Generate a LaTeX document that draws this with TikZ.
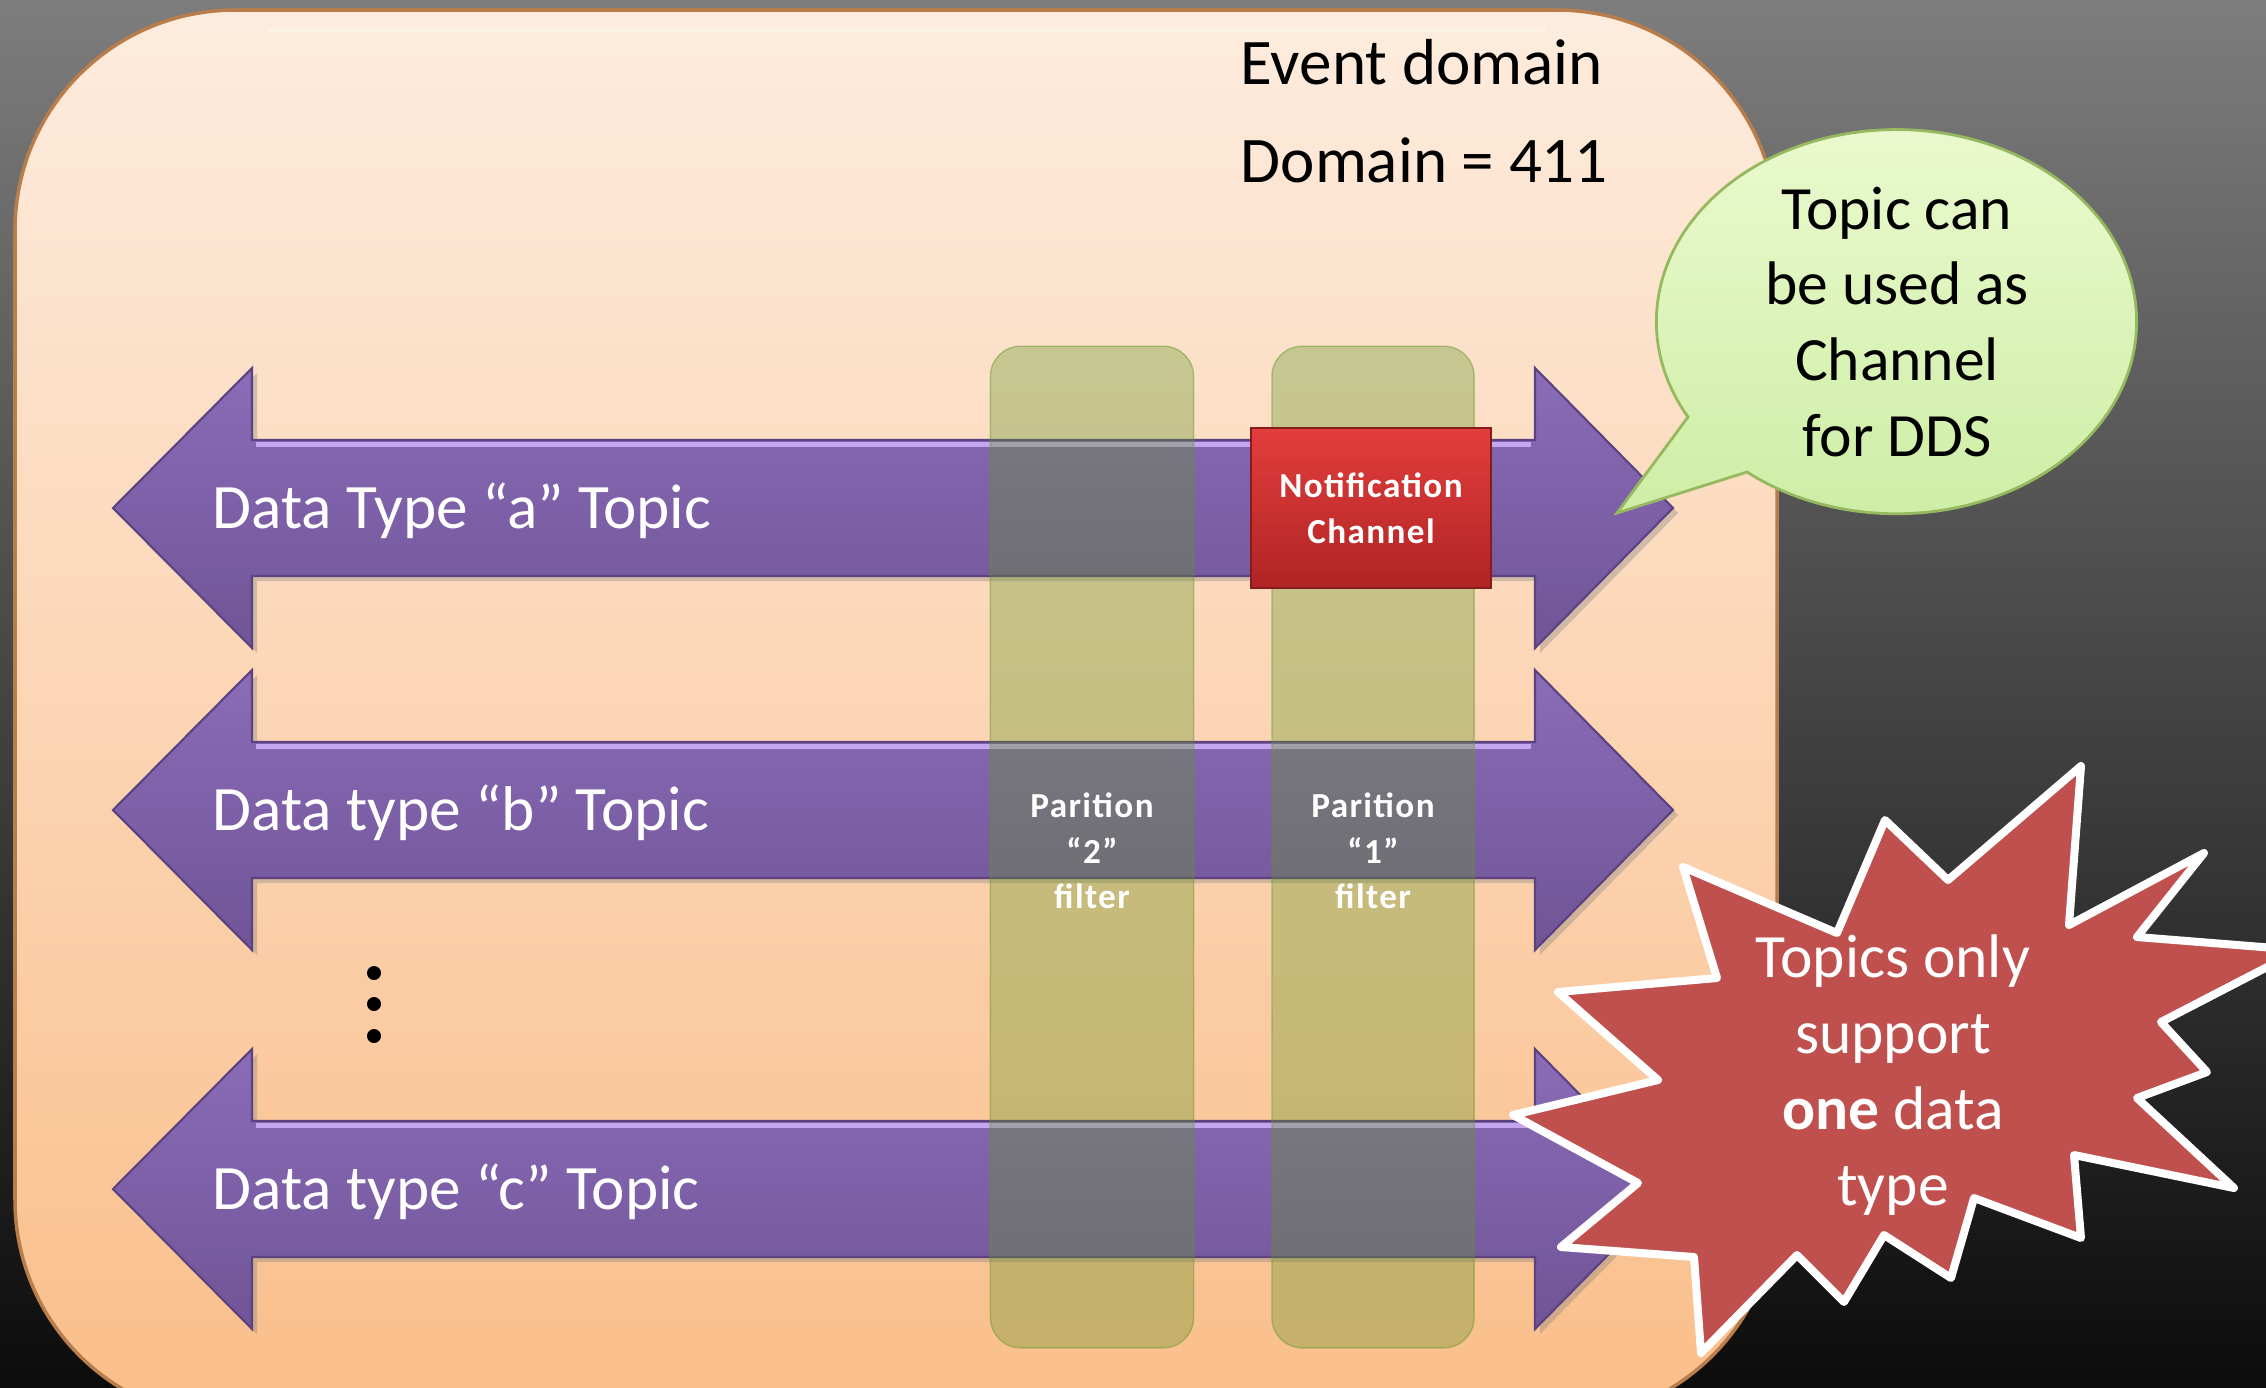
\documentclass[tikz,border=0pt]{standalone}
\usepackage{fontspec}
\setmainfont{Carlito}
\usetikzlibrary{shadows}

\definecolor{bgtop}{RGB}{125,125,125}
\definecolor{bgmid}{RGB}{68,68,68}
\definecolor{bgbot}{RGB}{12,12,12}
\definecolor{peachtop}{RGB}{253,236,222}
\definecolor{peachbot}{RGB}{250,190,138}
\definecolor{peachline}{RGB}{185,125,75}
\definecolor{topictop}{RGB}{138,108,184}
\definecolor{topicbot}{RGB}{112,84,150}
\definecolor{topicedge}{RGB}{92,66,128}
\definecolor{topiclight}{RGB}{196,166,240}
\definecolor{pillarolive}{RGB}{100,150,40}
\definecolor{notiftop}{RGB}{226,62,60}
\definecolor{notifbot}{RGB}{176,36,36}
\definecolor{notifedge}{RGB}{135,28,28}
\definecolor{bubbletop}{RGB}{236,250,208}
\definecolor{bubblebot}{RGB}{204,237,164}
\definecolor{bubbleedge}{RGB}{150,185,95}
\definecolor{starred}{RGB}{192,80,77}

\begin{document}
\begin{tikzpicture}[
  x=0.01cm, y=-0.01cm,
  domainbox/.style={draw=peachline, line width=1pt, top color=peachtop, bottom color=peachbot, rounded corners=2.2cm},
  domaintext/.style={anchor=base west, inner sep=0pt, font=\fontsize{18.5}{22}\selectfont},
  topic/.style={draw=topicedge, line width=0.6pt, top color=topictop, bottom color=topicbot, drop shadow={opacity=0.35, shadow xshift=0.05cm, shadow yshift=-0.05cm}},
  topiclabel/.style={anchor=base west, inner sep=0pt, text=white, font=\fontsize{18}{21}\selectfont},
  pillar/.style={rounded corners=0.3cm, fill=pillarolive, fill opacity=0.35, draw=pillarolive, draw opacity=0.45, minimum height=10.01cm, inner sep=0pt},
  notif/.style={draw=notifedge, top color=notiftop, bottom color=notifbot, minimum width=2.4cm, minimum height=1.6cm, inner sep=0pt, align=center, text=white, font=\bfseries\fontsize{10}{13}\selectfont\addfontfeature{LetterSpace=4}},
  partlabel/.style={align=center, inner sep=0pt, text=white, font=\bfseries\fontsize{10}{13}\selectfont\addfontfeature{LetterSpace=4}},
  bubble/.style={draw=bubbleedge, line width=0.8pt, top color=bubbletop, bottom color=bubblebot},
  bubbletext/.style={align=center, inner sep=0pt, font=\fontsize{17.5}{21.6}\selectfont},
  burst/.style={fill=starred, draw=white, line width=0.08cm, line join=round},
  bursttext/.style={align=center, inner sep=0pt, text=white, font=\fontsize{17.5}{21.6}\selectfont}
]
  % backdrop
  \fill[top color=bgtop, bottom color=bgbot, middle color=bgmid] (0,0) rectangle (2266,1387);
  \useasboundingbox (0,0) rectangle (2266,1387);
  \clip (0,0) rectangle (2266,1387);

  % event domain
  \draw[domainbox] (15,10) rectangle (1777,1420);
  \draw[white, opacity=0.25, line width=0.05cm] (267,29) -- (1546,29);
  \node[domaintext] (evt) at (1240,84) {Event domain};
  \node[domaintext] (dom) at (1240,182) {Domain = 411};

  % topics
  \foreach \yy/\nm/\lbl in {508/ta/{Data Type “a” Topic}, 810/tb/{Data type “b” Topic}, 1189/tc/{Data type “c” Topic}} {
    \draw[topic] (113,\yy) -- (252,\yy-140) -- (252,\yy-68) -- (1535,\yy-68) -- (1535,\yy-140) -- (1673,\yy)
      -- (1535,\yy+140) -- (1535,\yy+68) -- (252,\yy+68) -- (252,\yy+140) -- cycle;
    \draw[topiclight, line width=0.05cm] (256,\yy-64) -- (1531,\yy-64);
    \node[topiclabel] (\nm) at (212,\yy+20) {\lbl};
  }
  \foreach \yy in {973,1004,1036} \fill[black] (374,\yy) circle[radius=0.07cm];

  % partitions
  \node[pillar, minimum width=2.03cm] (part2) at (1092,847) {};
  \node[pillar, minimum width=2.02cm] (part1) at (1373,847) {};
  \node[notif] (notif) at (1371,508) {Notification\\Channel};
  \node[partlabel] (lbl2) at (1092,851) {Parition\\“2”\\filter};
  \node[partlabel] (lbl1) at (1373,851) {Parition\\“1”\\filter};

  % callouts
  \draw[bubble] (1688,417) -- (1617,513) -- (1747,472)
    arc[start angle=231.5, end angle=569.5, x radius=2.4cm, y radius=1.92cm] -- cycle;
  \node[bubbletext] (say) at (1897,322) {Topic can\\be used as\\Channel\\for DDS};

  \draw[burst] (1885,820) -- (1948,880) -- (2081,766) -- (2069,925) -- (2204,853) -- (2137,937)
    -- (2300,950) -- (2161,1022) -- (2207,1072) -- (2137,1098) -- (2234,1188) -- (2074,1155)
    -- (2081,1238) -- (1974,1198) -- (1951,1278) -- (1884,1235) -- (1844,1302) -- (1797,1255)
    -- (1701,1353) -- (1694,1257) -- (1561,1247) -- (1638,1183) -- (1513,1115) -- (1658,1080)
    -- (1558,992) -- (1717,978) -- (1683,867) -- (1837,933) -- cycle;
  \node[bursttext] (burst) at (1893,1075) {Topics only\\support\\\textbf{one} data\\type};
\end{tikzpicture}
\end{document}
